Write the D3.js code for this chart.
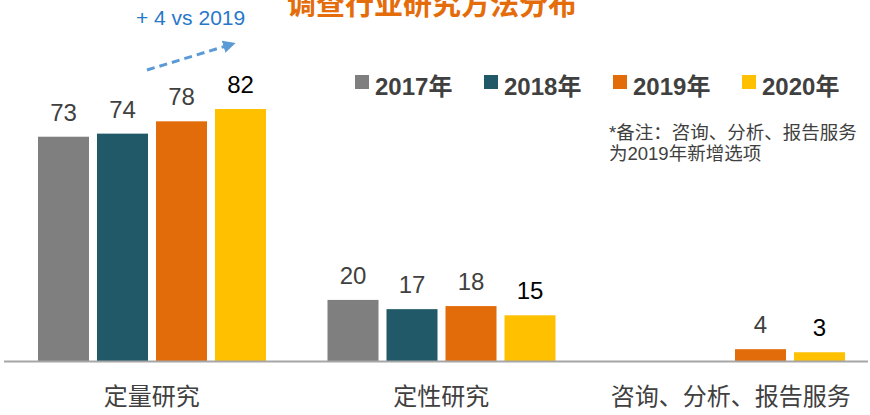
<!DOCTYPE html>
<html>
<head>
<meta charset="utf-8">
<script src="https://cdn.jsdelivr.net/npm/d3@7"></script>
<style>
  html, body { margin: 0; padding: 0; background: #fff; }
  svg { display: block; }
</style>
</head>
<body>
<svg id="chart" width="870" height="415"></svg>
<script>
// ---- data ----
const categories = ["定量研究", "定性研究", "咨询、分析、报告服务"];
const years = ["2017年", "2018年", "2019年", "2020年"];
const values2017 = [73, 20, null];
const values2018 = [74, 17, null];
const values2019 = [78, 18, 4];
const values2020 = [82, 15, 3];
const seriesValues = [values2017, values2018, values2019, values2020];
const titleText = "调查行业研究方法分布";
const annotationText = "+ 4 vs 2019";
const noteLines = ["*备注：咨询、分析、报告服务", "为2019年新增选项"];

// ---- styles ----
const colors = ["#7F7F7F", "#215968", "#E36C0A", "#FFC000"];
const labelColors = ["#404040", "#404040", "#404040", "#000000"];
const latin = "'Liberation Sans', Arial, 'Noto Sans CJK SC', sans-serif";
const cjk = "'Noto Sans CJK SC', 'Liberation Sans', sans-serif";

const svg = d3.select("#chart");

const x0 = d3.scaleBand().domain(categories).range([7, 875.5]);
const x1 = d3.scaleBand().domain(years).range([31, 259]).paddingInner(8 / 59).paddingOuter(0);
const y = d3.scaleLinear().domain([0, 82]).range([361.5, 109]);

// flatten
const rows = [];
categories.forEach((c, ci) => {
  years.forEach((yr, yi) => {
    const v = seriesValues[yi][ci];
    if (v !== null && v !== undefined) rows.push({ cat: c, year: yr, yi, value: v });
  });
});

// bars
svg.append("g").selectAll("rect").data(rows).join("rect")
  .attr("x", d => x0(d.cat) + x1(d.year))
  .attr("y", d => y(d.value))
  .attr("width", x1.bandwidth())
  .attr("height", d => y(0) - y(d.value))
  .attr("fill", d => colors[d.yi]);

// value labels
svg.append("g").selectAll("text").data(rows).join("text")
  .attr("x", d => x0(d.cat) + x1(d.year) + x1.bandwidth() / 2)
  .attr("y", d => y(d.value) - 16)
  .attr("text-anchor", "middle")
  .attr("font-family", latin)
  .attr("font-size", 24)
  .attr("fill", d => labelColors[d.yi])
  .text(d => d.value);

// x axis
const axis = d3.axisBottom(x0).tickSize(0).tickPadding(26);
const gx = svg.append("g").attr("transform", `translate(0,${y(0)})`).call(axis);
gx.select(".domain").attr("stroke", "#A6A6A6").attr("stroke-width", 2)
  .attr("d", "M4,0H868");
gx.selectAll(".tick text")
  .attr("font-family", cjk)
  .attr("font-size", 24)
  .attr("fill", "#404040");

// title (partly above the top edge, as in the source)
svg.append("text")
  .attr("x", 432).attr("y", 15)
  .attr("text-anchor", "middle")
  .attr("font-family", cjk)
  .attr("font-weight", 700)
  .attr("font-size", 29)
  .attr("fill", "#E46C0A")
  .text(titleText);

// legend
const legend = svg.append("g");
const legendX = [355, 484, 613, 742];
years.forEach((yr, i) => {
  const g = legend.append("g").attr("transform", `translate(${legendX[i]},0)`);
  g.append("rect").attr("x", 0).attr("y", 75).attr("width", 14).attr("height", 14).attr("fill", colors[i]);
  g.append("text").attr("x", 20).attr("y", 95)
    .attr("font-family", latin).attr("font-weight", 700).attr("font-size", 24)
    .attr("fill", "#404040").text(yr);
});

// note
noteLines.forEach((t, i) => {
  svg.append("text").attr("x", 609).attr("y", 139 + i * 21)
    .attr("font-family", latin).attr("font-size", 18.5)
    .attr("fill", "#404040").text(t);
});

// annotation
svg.append("defs").append("marker")
  .attr("id", "arrow").attr("viewBox", "0 0 10 10")
  .attr("refX", 2).attr("refY", 5)
  .attr("markerWidth", 4.2).attr("markerHeight", 4.2)
  .attr("orient", "auto")
  .append("path").attr("d", "M0,0L10,5L0,10Z").attr("fill", "#5B9BD5");

svg.append("line")
  .attr("x1", 147).attr("y1", 70).attr("x2", 226).attr("y2", 46)
  .attr("stroke", "#5B9BD5").attr("stroke-width", 3)
  .attr("stroke-dasharray", "8,5")
  .attr("marker-end", "url(#arrow)");

svg.append("text")
  .attr("x", 136).attr("y", 25)
  .attr("font-family", latin).attr("font-size", 21)
  .attr("fill", "#2878C8")
  .text(annotationText);
</script>
</body>
</html>
